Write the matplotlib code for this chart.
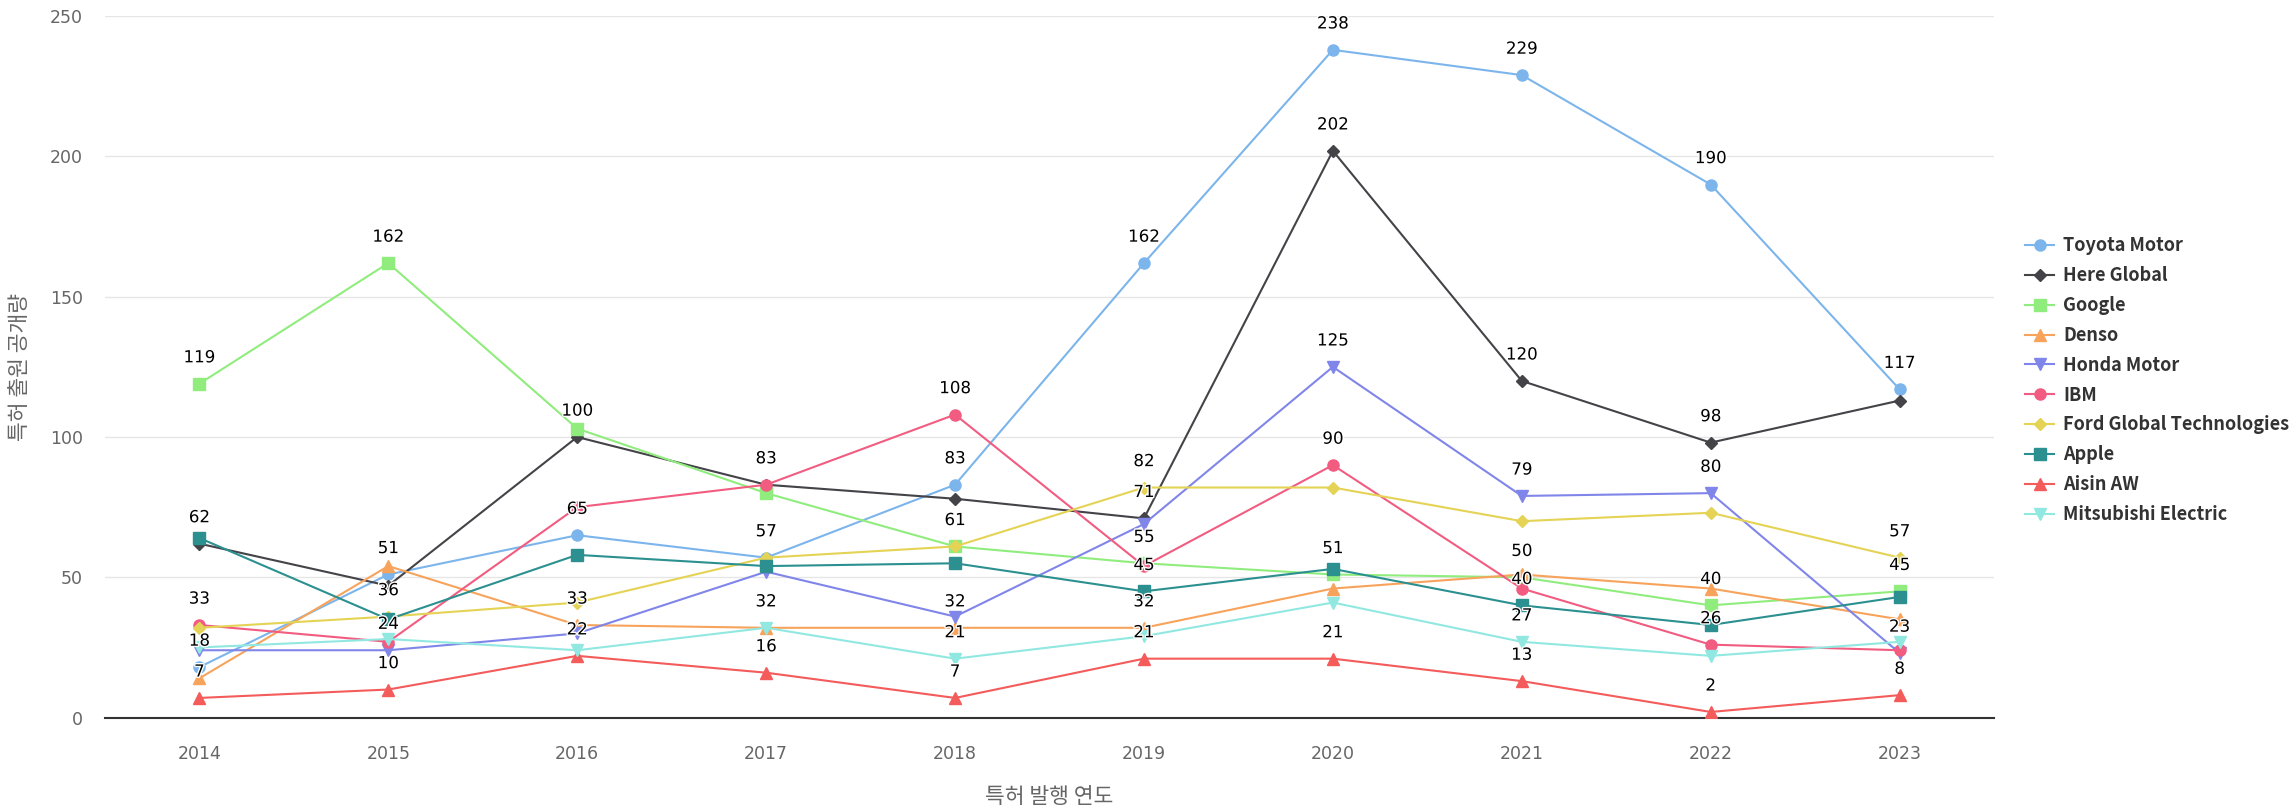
import matplotlib
matplotlib.use("Agg")
import matplotlib.pyplot as plt
import matplotlib.patheffects as pe

plt.rcParams['font.family'] = ['Noto Sans CJK KR', 'DejaVu Sans']

# 데이터
years = [2014, 2015, 2016, 2017, 2018, 2019, 2020, 2021, 2022, 2023]

toyota = [18, 51, 65, 57, 83, 162, 238, 229, 190, 117]
here_global = [62, 47, 100, 83, 78, 71, 202, 120, 98, 113]
google = [119, 162, 103, 80, 61, 55, 51, 50, 40, 45]
denso = [14, 54, 33, 32, 32, 32, 46, 51, 46, 35]
honda = [24, 24, 30, 52, 36, 69, 125, 79, 80, 23]
ibm = [33, 27, 75, 83, 108, 54, 90, 46, 26, 24]
ford = [32, 36, 41, 57, 61, 82, 82, 70, 73, 57]
apple = [64, 35, 58, 54, 55, 45, 53, 40, 33, 43]
aisin = [7, 10, 22, 16, 7, 21, 21, 13, 2, 8]
mitsubishi = [25, 28, 24, 32, 21, 29, 41, 27, 22, 27]

names = ['Toyota Motor', 'Here Global', 'Google', 'Denso', 'Honda Motor',
         'IBM', 'Ford Global Technologies', 'Apple', 'Aisin AW', 'Mitsubishi Electric']
series = [toyota, here_global, google, denso, honda, ibm, ford, apple, aisin, mitsubishi]

# 라벨이 보이는 연도 (겹치는 라벨은 숨김)
label_years = [
    [2014, 2015, 2016, 2018, 2019, 2020, 2021, 2022, 2023],
    [2014, 2016, 2019, 2020, 2021, 2022],
    [2014, 2015, 2018, 2019, 2020, 2021, 2022, 2023],
    [2016, 2017, 2018, 2019],
    [2015, 2020, 2021, 2022, 2023],
    [2014, 2017, 2018, 2020, 2022],
    [2015, 2017, 2019, 2023],
    [2019, 2021],
    [2014, 2015, 2016, 2017, 2018, 2019, 2020, 2021, 2022, 2023],
    [2018, 2021],
]

colors = ['#7cb5ec', '#434348', '#90ed7d', '#f7a35c', '#8085e9',
          '#f15c80', '#e4d354', '#2b908f', '#f45b5b', '#91e8e1']
markers = ['o', 'D', 's', '^', 'v', 'o', 'D', 's', '^', 'v']
msizes = [8, 6, 8, 9, 9, 8, 6, 8, 9, 9]

fig = plt.figure(figsize=(22.96, 8.09), dpi=100)
ax = fig.add_axes([0.0457, 0.113, 0.8228, 0.867])

for i in range(len(series)):
    ax.plot(years, series[i], color=colors[i], marker=markers[i], markersize=msizes[i],
            linewidth=1.5, label=names[i], zorder=3 + i * 0.1)

for i in range(len(series)):
    for x, y in zip(years, series[i]):
        if x in label_years[i]:
            ax.annotate(str(y), (x, y), xytext=(0, 19), textcoords='offset points',
                        ha='center', va='center', fontsize=12, color='black',
                        family='DejaVu Sans', zorder=10,
                        path_effects=[pe.withStroke(linewidth=2, foreground='white')])

ax.set_xlim(2013.5, 2023.5)
ax.set_ylim(0, 250)
ax.set_xticks(years)
ax.set_yticks([0, 50, 100, 150, 200, 250])
ax.grid(axis='y', color='#e6e6e6', linewidth=1)
ax.set_axisbelow(True)
for s in ['top', 'right', 'left']:
    ax.spines[s].set_visible(False)
ax.spines['bottom'].set_color('#333333')
ax.spines['bottom'].set_linewidth(1.5)
ax.tick_params(axis='both', length=0, labelsize=12.5, colors='#666666')
ax.tick_params(axis='x', pad=20)
ax.tick_params(axis='y', pad=16)
for t in ax.get_xticklabels() + ax.get_yticklabels():
    t.set_family('DejaVu Sans')

ax.set_xlabel('특허 발행 연도', fontsize=15.5, color='#666666')
ax.set_ylabel('특허 출원 공개량', fontsize=15.5, color='#666666')
ax.xaxis.set_label_coords(0.5, -0.098)
ax.yaxis.set_label_coords(-0.039, 0.5)

leg = fig.legend(loc='center left', bbox_to_anchor=(0.875, 0.53), frameon=False,
                 fontsize=13, labelspacing=0.6, handlelength=1.6, handletextpad=0.5)
for t in leg.get_texts():
    t.set_color('#333333')
    t.set_fontweight('bold')

plt.savefig('out.png', dpi=100)
plt.close()
